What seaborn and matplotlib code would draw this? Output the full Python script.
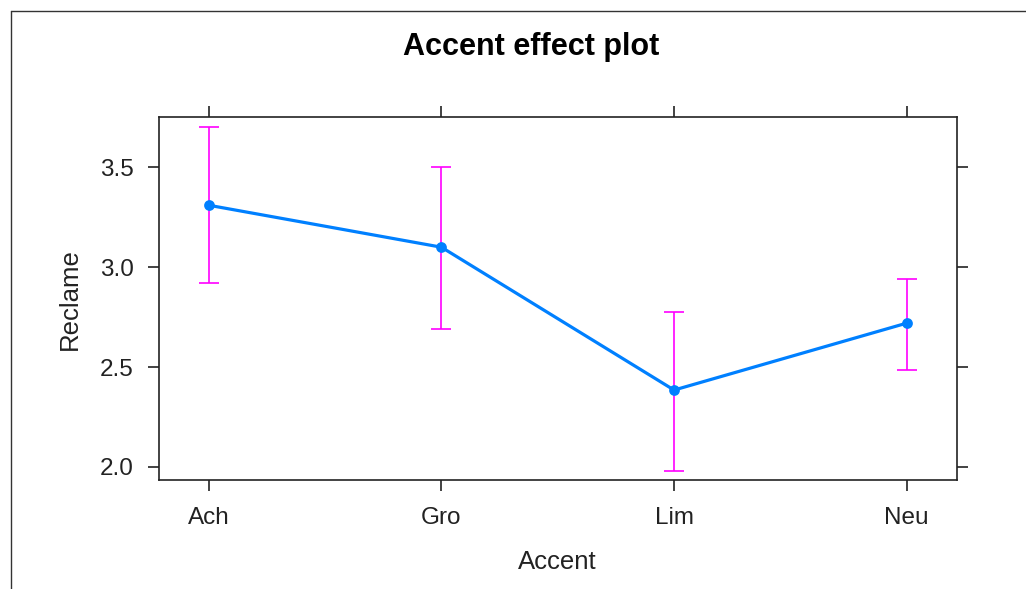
import matplotlib
matplotlib.use("Agg")
import matplotlib.pyplot as plt
from matplotlib.lines import Line2D
import seaborn as sns
import pandas as pd

# Data
accents = ["Ach", "Gro", "Lim", "Neu"]
reclame = [3.31, 3.10, 2.385, 2.72]
lower = [2.92, 2.69, 1.98, 2.485]
upper = [3.70, 3.50, 2.775, 2.94]
y_ticks = [2.0, 2.5, 3.0, 3.5]

sns.set_theme(style="white")
plt.rcParams["font.family"] = ["Liberation Sans", "DejaVu Sans"]

df = pd.DataFrame({"Accent": accents, "Reclame": reclame,
                   "lower": lower, "upper": upper})

fig = plt.figure(figsize=(10.26, 5.89), dpi=100)
ax = fig.add_axes([0.1547, 0.1851, 0.7778, 0.6157])

xpos = list(range(len(accents)))
yerr = [[r - l for r, l in zip(reclame, lower)],
        [u - r for r, u in zip(reclame, upper)]]
ax.errorbar(xpos, reclame, yerr=yerr, fmt="none", ecolor="#FF00FF",
            elinewidth=1.2, capsize=7, capthick=1.2, zorder=2)

sns.pointplot(data=df, x="Accent", y="Reclame", errorbar=None, color="#0080FF",
              markers="o", linewidth=2.3, markersize=6, ax=ax, zorder=3)

ax.set_xlim(-0.215, 3.215)
ax.set_ylim(1.935, 3.75)
ax.set_yticks(y_ticks)
ax.set_yticklabels([f"{v:.1f}" for v in y_ticks])

for side in ["left", "right", "top", "bottom"]:
    ax.spines[side].set_visible(True)
    ax.spines[side].set_color("#222222")
    ax.spines[side].set_linewidth(1.2)

ax.tick_params(axis="both", which="major", direction="out", length=8, width=1.2,
               color="#222222", labelsize=17.5, labelcolor="#222222",
               top=True, right=True, left=True, bottom=True,
               labeltop=False, labelright=False)
ax.tick_params(axis="y", pad=10)
ax.tick_params(axis="x", pad=11.5)

ax.set_xlabel("Accent", fontsize=18.5, color="#222222", labelpad=15)
ax.set_ylabel("Reclame", fontsize=18.5, color="#222222", labelpad=13)

fig.text(0.5174, 0.921, "Accent effect plot", ha="center", va="center",
         fontsize=22, fontweight="bold", color="black")

# outer frame lines (left and top)
x0, y0 = 10.5 / 1026, 1 - 10.5 / 589
fig.add_artist(Line2D([x0, x0], [0, y0], color="#333333", linewidth=1.0,
                      transform=fig.transFigure))
fig.add_artist(Line2D([x0, 1], [y0, y0], color="#333333", linewidth=1.0,
                      transform=fig.transFigure))

fig.savefig("out.png", dpi=100, facecolor="white")
